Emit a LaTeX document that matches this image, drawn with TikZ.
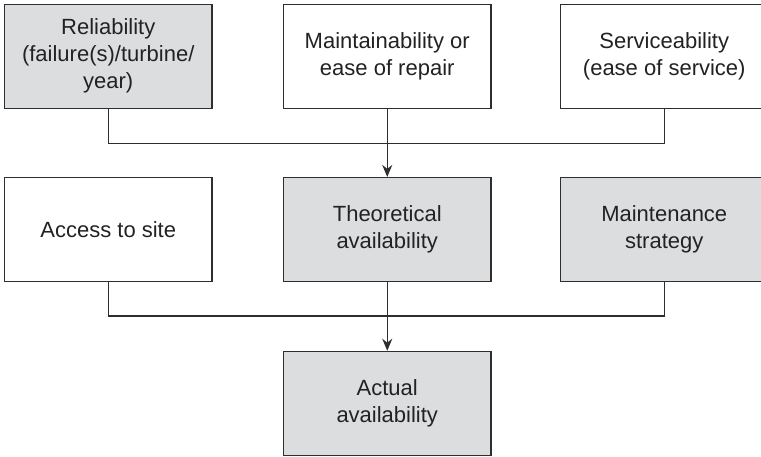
\documentclass[tikz,border=0pt]{standalone}
\usepackage{fontspec}
\setmainfont{Liberation Sans}
\usetikzlibrary{arrows.meta}
\definecolor{boxgray}{HTML}{DCDDDF}
\definecolor{inkline}{HTML}{2E2E2E}
\definecolor{inktext}{HTML}{222222}
\begin{document}
\begin{tikzpicture}[x=1pt,y=-1pt,
  factor/.style={draw=inkline, line width=1.3pt, fill=white,
    minimum width=207.5pt, minimum height=104pt, inner sep=0pt,
    align=center, text=inktext,
    font=\fontsize{22}{27}\selectfont},
  shaded/.style={factor, fill=boxgray},
  link/.style={draw=inkline, line width=1.3pt},
  feed/.style={link, -{Stealth[length=12pt,width=10pt]}}]
\useasboundingbox (0,0) rectangle (761,457);
\begin{scope}
\clip (0,0) rectangle (761,457);
% top row: contributors to theoretical availability
\node[shaded] (rel) at (108.25,56.25) {Reliability\\(failure(s)/turbine/\\year)};
\node[factor] (mnt) at (387.25,56.25) {Maintainability or\\ease of repair};
\node[factor] (srv) at (664.25,56.25) {Serviceability\\(ease of service)};
% middle row
\node[factor] (acc) at (108.25,229.6) {Access to site};
\node[shaded] (theo) at (387.25,229.6) {Theoretical\\availability};
\node[shaded] (strat) at (664.25,229.6) {Maintenance\\strategy};
% result
\node[shaded] (act) at (387.25,403.4) {Actual\\availability};
% junction lines
\coordinate (j1) at (387.25,143.5);
\coordinate (j2) at (387.25,316);
\draw[link] (rel.south) |- (j1) -| (srv.south);
\draw[feed] (mnt.south) -- (theo.north);
\draw[link] (acc.south) |- (j2) -| (strat.south);
\draw[feed] (theo.south) -- (act.north);
\end{scope}
\end{tikzpicture}
\end{document}
